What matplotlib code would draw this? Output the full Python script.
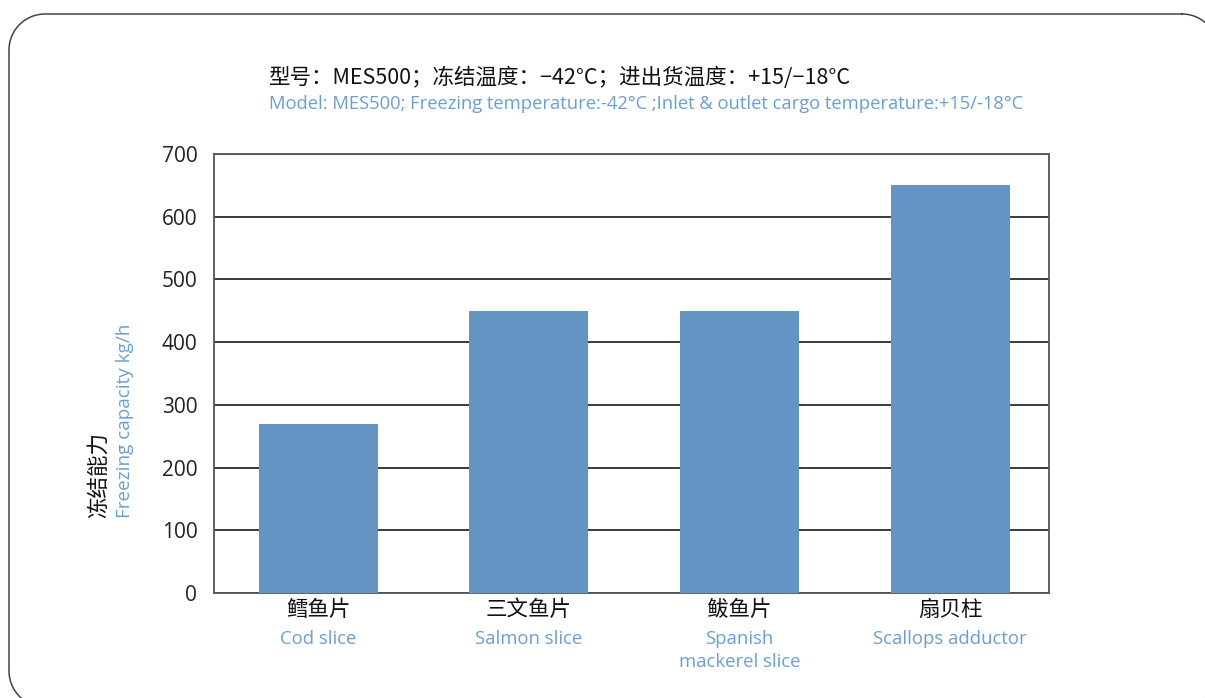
import matplotlib
matplotlib.use("Agg")
import numpy as np
import matplotlib.pyplot as plt
import matplotlib.transforms as mtransforms
from matplotlib.lines import Line2D

# freezing capacity per product, kg/h
products_cn = ["鳕鱼片", "三文鱼片", "鲅鱼片", "扇贝柱"]
products_en = ["Cod slice", "Salmon slice", "Spanish\nmackerel slice", "Scallops adductor"]
capacity = [270, 450, 450, 650]
yticks = [0, 100, 200, 300, 400, 500, 600, 700]

title_cn = "型号：MES500；冻结温度：−42°C；进出货温度：+15/−18°C"
title_en = "Model: MES500; Freezing temperature:-42°C ;Inlet & outlet cargo temperature:+15/-18°C"

BAR = "#6494c4"
BLUE = "#6a9fd6"
LINE = "#2a2a2a"
CJK = ["Noto Sans CJK SC", "DejaVu Sans"]
LAT = ["Open Sans", "DejaVu Sans"]

fig = plt.figure(figsize=(12.05, 6.98), dpi=100)
W, H = 1205, 698


def rounded_frame(x0, y0, x1, y1, r, n=30):
    # outline of a rounded rectangle, pixel coords measured from the top-left
    pts = []
    corners = [(x1 - r, y0 + r, -90, 0), (x1 - r, y1 - r, 0, 90),
               (x0 + r, y1 - r, 90, 180), (x0 + r, y0 + r, 180, 270)]
    for cx, cy, a0, a1 in corners:
        t = np.radians(np.linspace(a0, a1, n))
        pts += list(zip(cx + r * np.cos(t), cy + r * np.sin(t)))
    pts.append(pts[0])
    px, py = zip(*pts)
    return np.array(px) / W, 1 - np.array(py) / H


fx, fy = rounded_frame(9, 14, 1218, 707, 36)
fig.add_artist(Line2D(fx, fy, transform=fig.transFigure, color="#444444", linewidth=1.1))

ax = fig.add_axes([214 / W, 1 - 593 / H, (1049 - 214) / W, (593 - 154) / H])
x = range(len(capacity))
ax.bar(x, capacity, width=0.565, color=BAR, zorder=3)
ax.set_xlim(-0.496, 3.47)
ax.set_ylim(0, 700)
ax.set_yticks(yticks)
ax.set_yticklabels([str(v) for v in yticks], fontfamily=LAT, fontsize=15, color="#222222")
ax.tick_params(axis="y", length=0, pad=12)
ax.set_xticks([])
ax.yaxis.grid(True, color=LINE, linewidth=1.3, zorder=1)
for s in ax.spines.values():
    s.set_color("#555555")
    s.set_linewidth(1.3)

# two-line category labels under the bars
trans = mtransforms.blended_transform_factory(ax.transData, fig.transFigure)
for i in x:
    ax.text(i, 1 - 610 / H, products_cn[i], transform=trans, ha="center", va="center",
            fontfamily=CJK, fontsize=15.5, color="#111111")
    ax.text(i, 1 - 630 / H, products_en[i], transform=trans, ha="center", va="top",
            fontfamily=LAT, fontsize=13.3, color=BLUE, linespacing=1.35)

# axis titles
fig.text(99 / W, 1 - 518 / H, "冻结能力", rotation=90, ha="center", va="bottom",
         fontfamily=CJK, fontsize=15.5, color="#111111")
fig.text(125 / W, 1 - 518 / H, "Freezing capacity kg/h", rotation=90, ha="center", va="bottom",
         fontfamily=LAT, fontsize=13.6, color=BLUE)

fig.text(269 / W, 1 - 78 / H, title_cn, ha="left", va="center",
         fontfamily=CJK, fontsize=15.5, color="#111111")
fig.text(269 / W, 1 - 104 / H, title_en, ha="left", va="center",
         fontfamily=LAT, fontsize=13.2, color=BLUE)

fig.savefig("out.png", dpi=100)
